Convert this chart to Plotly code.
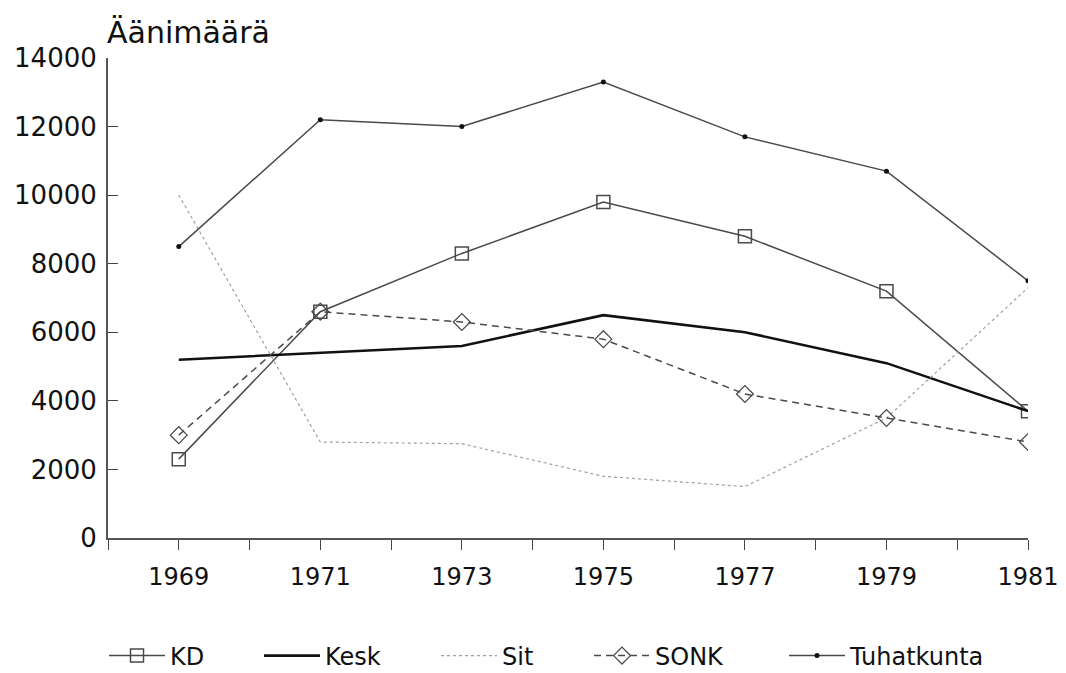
import plotly.graph_objects as go

years = [1969, 1971, 1973, 1975, 1977, 1979, 1981]
kd = [2300, 6600, 8300, 9800, 8800, 7200, 3700]
kesk = [5200, 5400, 5600, 6500, 6000, 5100, 3700]
sit = [10000, 2800, 2750, 1800, 1500, 3500, 7300]
sonk = [3000, 6600, 6300, 5800, 4200, 3500, 2800]
tuhatkunta = [8500, 12200, 12000, 13300, 11700, 10700, 7500]

x_tick_vals = list(range(1968, 1982))
x_tick_text = [str(y) if y % 2 == 1 else "" for y in x_tick_vals]
y_tick_vals = [0, 2000, 4000, 6000, 8000, 10000, 12000, 14000]
y_tick_text = [str(v) for v in y_tick_vals]

FONT = "DejaVu Sans, Liberation Sans, Arial, sans-serif"
DARK = "#4a4a4a"

fig = go.Figure()
fig.add_trace(go.Scatter(
    x=years, y=kd, name="KD", mode="lines+markers", legend="legend",
    line=dict(color=DARK, width=1.5),
    marker=dict(symbol="square-open", size=13, color=DARK, line=dict(width=1.5)),
))
fig.add_trace(go.Scatter(
    x=years, y=kesk, name="Kesk", mode="lines", legend="legend2",
    line=dict(color="#111111", width=2.6),
))
fig.add_trace(go.Scatter(
    x=years, y=sit, name="Sit", mode="lines", legend="legend3",
    line=dict(color="#a0a0a0", width=1.2, dash="dot"),
))
fig.add_trace(go.Scatter(
    x=years, y=sonk, name="SONK", mode="lines+markers", legend="legend4",
    line=dict(color=DARK, width=1.5, dash="7px,5px"),
    marker=dict(symbol="diamond-open", size=13, color=DARK, line=dict(width=1.3)),
))
fig.add_trace(go.Scatter(
    x=years, y=tuhatkunta, name="Tuhatkunta", mode="lines+markers", legend="legend5",
    line=dict(color=DARK, width=1.5),
    marker=dict(symbol="circle", size=5, color="#111111"),
))

# page pixel layout (browser body margin is 8px)
PAGE_W, PAGE_H, OFF = 1066, 673, 8
FIG_W, FIG_H = PAGE_W - OFF, PAGE_H - OFF
PLOT_L, PLOT_R, PLOT_T, PLOT_B = 108 - OFF, 1028 - OFF, 58 - OFF, 538 - OFF
PLOT_W, PLOT_H = PLOT_R - PLOT_L, PLOT_B - PLOT_T
legend_px = [110, 265, 442, 595, 790]  # page x of legend symbol starts
legend_y = (PLOT_B - (656 - OFF)) / PLOT_H


def legend_cfg(px):
    return dict(
        orientation="h", x=((px - OFF) - PLOT_L - 6) / PLOT_W, xanchor="left",
        y=legend_y, yanchor="middle", bgcolor="rgba(0,0,0,0)",
        font=dict(family=FONT, size=24, color="#111111"),
        itemwidth=56,
    )


fig.update_layout(
    width=FIG_W, height=FIG_H, autosize=False,
    margin=dict(l=PLOT_L, r=FIG_W - PLOT_R, t=PLOT_T, b=FIG_H - PLOT_B, pad=0,
                autoexpand=False),
    paper_bgcolor="white", plot_bgcolor="white",
    font=dict(family=FONT, color="#111111", size=24),
    showlegend=True,
    legend=legend_cfg(legend_px[0]),
    legend2=legend_cfg(legend_px[1]),
    legend3=legend_cfg(legend_px[2]),
    legend4=legend_cfg(legend_px[3]),
    legend5=legend_cfg(legend_px[4]),
    xaxis=dict(
        range=[1968, 1981], showgrid=False, zeroline=False,
        showline=True, linecolor="#555555", linewidth=2,
        tickmode="array", tickvals=x_tick_vals, ticktext=x_tick_text,
        ticks="outside", ticklen=10, tickwidth=1.3, tickcolor="#444444",
        tickfont=dict(family=FONT, size=24, color="#111111"),
        ticklabelstandoff=6,
    ),
    yaxis=dict(
        range=[0, 14000], showgrid=False, zeroline=False,
        showline=True, linecolor="#555555", linewidth=2,
        tickmode="array", tickvals=y_tick_vals, ticktext=y_tick_text,
        ticks="inside", ticklen=10, tickwidth=1.3, tickcolor="#444444",
        tickfont=dict(family=FONT, size=26, color="#111111"),
        ticklabelstandoff=4,
    ),
    annotations=[dict(
        text="Äänimäärä", xref="paper", yref="paper", x=0, y=1.0,
        xanchor="left", yanchor="bottom", yshift=6, xshift=-3, showarrow=False,
        font=dict(family=FONT, size=30, color="#111111"),
    )],
)

fig.write_html("out.html")
